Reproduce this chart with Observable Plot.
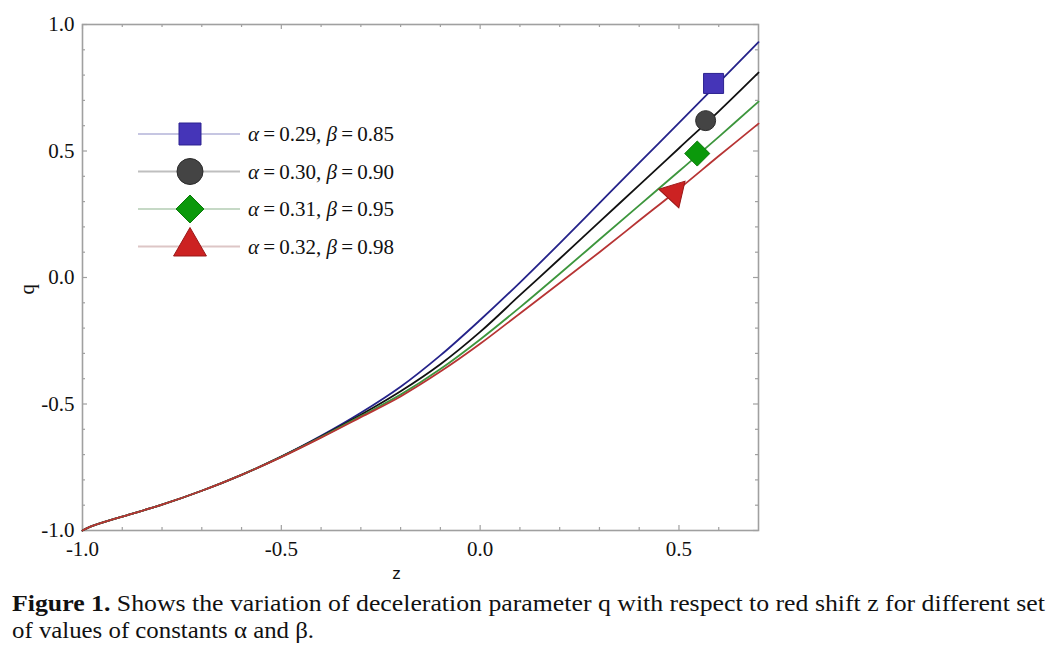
<!DOCTYPE html>
<html>
<head>
<meta charset="utf-8">
<script src="https://cdn.jsdelivr.net/npm/d3@7"></script>
<script src="https://cdn.jsdelivr.net/npm/@observablehq/plot@0.6"></script>
<style>
  html, body { margin: 0; padding: 0; background: #fff; }
  #wrap { position: relative; width: 1047px; height: 651px; overflow: hidden; }
  #wrap > svg.chart { position: absolute; left: 0; top: 0; }
  #wrap > svg#legend { position: absolute; left: 0; top: 0; pointer-events: none; }
  #wrap > svg#caption { position: absolute; left: 0; top: 585px; }
</style>
</head>
<body>
<div id="wrap"></div>
<script>
// ---------- data ----------
const zValues = [-1, -0.98, -0.9, -0.8, -0.7, -0.6, -0.5, -0.4, -0.3, -0.2, -0.1, 0, 0.1, 0.2, 0.3, 0.4, 0.5, 0.6, 0.7];
const qBlue   = [-1, -0.985, -0.945, -0.898, -0.843, -0.780, -0.708, -0.626, -0.535, -0.432, -0.308, -0.168, -0.020, 0.135, 0.294, 0.453, 0.611, 0.770, 0.930];
const qBlack  = [-1, -0.985, -0.945, -0.898, -0.843, -0.780, -0.708, -0.629, -0.543, -0.450, -0.343, -0.215, -0.070, 0.074, 0.220, 0.365, 0.511, 0.657, 0.810];
const qGreen  = [-1, -0.985, -0.945, -0.898, -0.843, -0.780, -0.709, -0.631, -0.548, -0.463, -0.362, -0.245, -0.118, 0.015, 0.150, 0.285, 0.420, 0.556, 0.695];
const qRed    = [-1, -0.985, -0.945, -0.898, -0.843, -0.780, -0.710, -0.633, -0.552, -0.470, -0.372, -0.262, -0.142, -0.022, 0.100, 0.225, 0.350, 0.480, 0.608];

const seriesAlpha = ["0.29", "0.30", "0.31", "0.32"];
const seriesBeta  = ["0.85", "0.90", "0.95", "0.98"];
const markerZ = [0.587, 0.567, 0.546, 0.488];
const markerQ = [0.767, 0.620, 0.490, 0.335];

const xTicks = [-1, -0.5, 0, 0.5];
const yTicks = [-1, -0.5, 0, 0.5, 1];
const xMinor = [-0.9, -0.8, -0.7, -0.6, -0.4, -0.3, -0.2, -0.1, 0.1, 0.2, 0.3, 0.4, 0.6];
const yMinor = [-0.9, -0.8, -0.7, -0.6, -0.4, -0.3, -0.2, -0.1, 0.1, 0.2, 0.3, 0.4, 0.6, 0.7, 0.8, 0.9];

const xLabel = "z";
const yLabel = "q";
const captionBold = "Figure 1.";
const captionRest = " Shows the variation of deceleration parameter q with respect to red shift z for different set";
const captionLine2 = "of values of constants \u03b1 and \u03b2.";

// ---------- styles ----------
const qSeries = [qBlue, qBlack, qGreen, qRed];
const lineColors   = ["#25238a", "#111111", "#3d963d", "#b73434"];
const legendLines  = ["#c6c6e2", "#bfbfbf", "#c6d9c6", "#ddc6c6"];
const markerFill   = ["#4535b8", "#444444", "#0b990b", "#cc2222"];
const markerStroke = ["#2c2290", "#2a2a2a", "#0a7a0a", "#9a1818"];
const markerSymbol = ["square", "circle", "diamond2", "triangle"];
const markerR      = [11.3, 10, 11.3, 10.2];
const markerRotate = [0, 0, 0, 163];

const W = 1047, H = 585;
const mL = 82, mR = 289, mT = 24, mB = 55;
const innerW = W - mL - mR, innerH = H - mT - mB;
const frameColor = "#a0a0a0";
const serif = "'Liberation Serif', 'Times New Roman', serif";
const sans = "'Liberation Sans', Arial, sans-serif";

const marks = [];
// inward ticks on all four sides
for (const [vals, len] of [[xTicks, 5], [xMinor, 3]]) {
  marks.push(Plot.tickX(vals, {x: d => d, insetTop: innerH - len, stroke: frameColor, strokeWidth: 1.2}));
  marks.push(Plot.tickX(vals, {x: d => d, insetBottom: innerH - len, stroke: frameColor, strokeWidth: 1.2}));
}
for (const [vals, len] of [[yTicks, 5], [yMinor, 3]]) {
  marks.push(Plot.tickY(vals, {y: d => d, insetRight: innerW - len, stroke: frameColor, strokeWidth: 1.2}));
  marks.push(Plot.tickY(vals, {y: d => d, insetLeft: innerW - len, stroke: frameColor, strokeWidth: 1.2}));
}
marks.push(Plot.frame({stroke: frameColor, strokeWidth: 1.6}));

// curves
qSeries.forEach((qs, i) => {
  const rows = zValues.map((z, j) => ({z, q: qs[j]}));
  marks.push(Plot.line(rows, {x: "z", y: "q", stroke: lineColors[i], strokeWidth: 1.8, curve: "catmull-rom"}));
});
// markers on curves
markerZ.forEach((z, i) => {
  marks.push(Plot.dot([{z, q: markerQ[i]}], {
    x: "z", y: "q", symbol: () => markerSymbol[i], r: markerR[i],
    fill: markerFill[i], stroke: markerStroke[i], strokeWidth: 1, rotate: markerRotate[i]
  }));
});

// axes
marks.push(Plot.axisX(xTicks, {tickSize: 0, tickPadding: 11, tickFormat: d => d.toFixed(1), label: null, fontSize: 21}));
marks.push(Plot.axisY(yTicks, {tickSize: 0, tickPadding: 8, tickFormat: d => d.toFixed(1), label: null, fontSize: 21}));
marks.push(Plot.text([xLabel], {frameAnchor: "bottom", dx: -24, dy: 48, fontFamily: sans, fontSize: 17, fill: "#111"}));
marks.push(Plot.text([yLabel], {frameAnchor: "left", dx: -55, dy: 17, rotate: -90, fontFamily: serif, fontSize: 21, fill: "#111"}));

const chart = Plot.plot({
  className: "chart",
  width: W, height: H,
  marginLeft: mL, marginRight: mR, marginTop: mT, marginBottom: mB,
  x: {domain: [-1, 0.7]},
  y: {domain: [-1, 1]},
  style: {fontFamily: serif, fontSize: "21px", color: "#111", background: "transparent", overflow: "visible"},
  marks
});
chart.classList.add("chart");
const wrap = document.getElementById("wrap");
wrap.appendChild(chart);

// ---------- legend overlay ----------
const leg = d3.select(wrap).append("svg").attr("id", "legend").attr("width", W).attr("height", H);
const rowY0 = 134, rowDy = 37.5;
const symMap = {square: d3.symbolSquare, circle: d3.symbolCircle, diamond2: d3.symbolDiamond2, triangle: d3.symbolTriangle};
seriesAlpha.forEach((a, i) => {
  const y = rowY0 + i * rowDy;
  const g = leg.append("g");
  g.append("line").attr("x1", 138).attr("x2", 240).attr("y1", y).attr("y2", y)
    .attr("stroke", legendLines[i]).attr("stroke-width", 2);
  const lr = [12.4, 13, 12.6, 12.2][i];
  g.append("path").attr("transform", `translate(190,${y})`)
    .attr("d", d3.symbol(symMap[markerSymbol[i]], Math.PI * lr * lr)())
    .attr("fill", markerFill[i]).attr("stroke", markerStroke[i]).attr("stroke-width", 1);
  const t = g.append("text").attr("x", 248).attr("y", y + 7)
    .attr("font-family", serif).attr("font-size", 21).attr("fill", "#111");
  t.append("tspan").attr("font-style", "italic").text("\u03b1");
  t.append("tspan").text("\u2009=\u2009" + a + ", ");
  t.append("tspan").attr("font-style", "italic").text("\u03b2");
  t.append("tspan").text("\u2009=\u2009" + seriesBeta[i]);
});

// ---------- caption ----------
const cap = d3.select(wrap).append("svg").attr("id", "caption").attr("width", W).attr("height", 66);
const c1 = cap.append("text").attr("x", 12).attr("y", 26)
  .attr("font-family", serif).attr("font-size", 24).attr("fill", "#111")
  .attr("textLength", 1033).attr("lengthAdjust", "spacingAndGlyphs");
c1.append("tspan").attr("font-weight", "bold").text(captionBold);
c1.append("tspan").text(captionRest);
cap.append("text").attr("x", 12).attr("y", 53)
  .attr("font-family", serif).attr("font-size", 24).attr("fill", "#111")
  .attr("textLength", 302).attr("lengthAdjust", "spacingAndGlyphs")
  .text(captionLine2);
</script>
</body>
</html>
